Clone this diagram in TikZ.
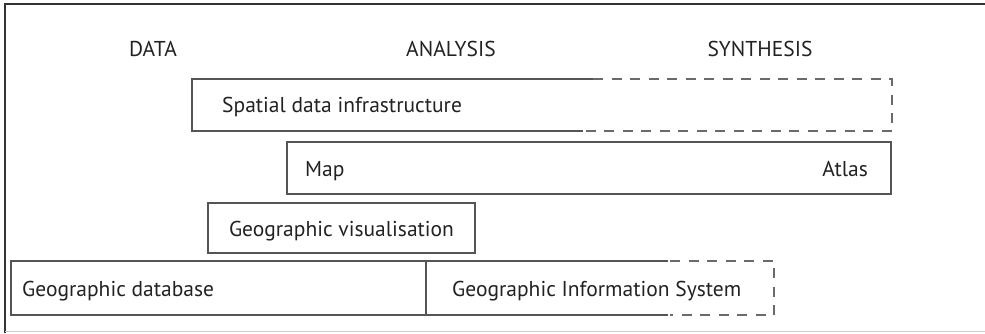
\documentclass[tikz,border=0pt]{standalone}
\usepackage{fontspec}
\setmainfont{PT Sans}
\definecolor{linegray}{HTML}{555555}
\definecolor{dashgray}{HTML}{6A6A6A}
\definecolor{txtgray}{HTML}{222222}
\begin{document}
\begin{tikzpicture}[x=1pt,y=1pt,
  solidline/.style={draw=linegray,line width=1.4pt},
  dashline/.style={draw=dashgray,line width=1.4pt,dash pattern=on 10pt off 8.5pt},
  lbl/.style={inner sep=0pt,text=txtgray,font=\fontsize{21.5}{24}\selectfont},
  frame/.style={draw=black!80,line width=2.4pt}]
\useasboundingbox (0,0) rectangle (985,333);
% outer frame
\draw[frame] (5,0) -- (5,329) -- (985,329);
\draw[draw=black!20,line width=1.5pt] (5,1.5) -- (985,1.5);
% headers
\node[lbl,anchor=base] (data) at (153,277) {DATA};
\node[lbl,anchor=base] (analysis) at (451,277) {ANALYSIS};
\node[lbl,anchor=base] (synthesis) at (760,277) {SYNTHESIS};
% box 1: Spatial data infrastructure
\draw[solidline] (593,254) -- (192,254) -- (192,202) -- (583,202);
\draw[dashline] (593,254) -- (892,254) -- (892,202) -- (583,202);
\node[lbl,anchor=base west] (sdi) at (222,221) {Spatial data infrastructure};
% box 2: Map / Atlas
\draw[solidline] (287,191) rectangle (891,139);
\node[lbl,anchor=base west] (map) at (305,157) {Map};
\node[lbl,anchor=base east] (atlas) at (868,157) {Atlas};
% box 3: Geographic visualisation
\draw[solidline] (208,130) rectangle (475,80);
\node[lbl,anchor=base] (gvis) at (341.5,97) {Geographic visualisation};
% box 4: Geographic database
\draw[solidline] (426,72) -- (11,72) -- (11,18) -- (426,18) -- cycle;
\node[lbl,anchor=base west] (gdb) at (22,37) {Geographic database};
% box 5: GIS
\draw[solidline] (426,72) -- (668,72);
\draw[solidline] (426,18) -- (668,18);
\draw[dashline] (670,72) -- (774,72) -- (774,18) -- (670,18);
\node[lbl,anchor=base west] (gis) at (452,37) {Geographic Information System};
\end{tikzpicture}
\end{document}
